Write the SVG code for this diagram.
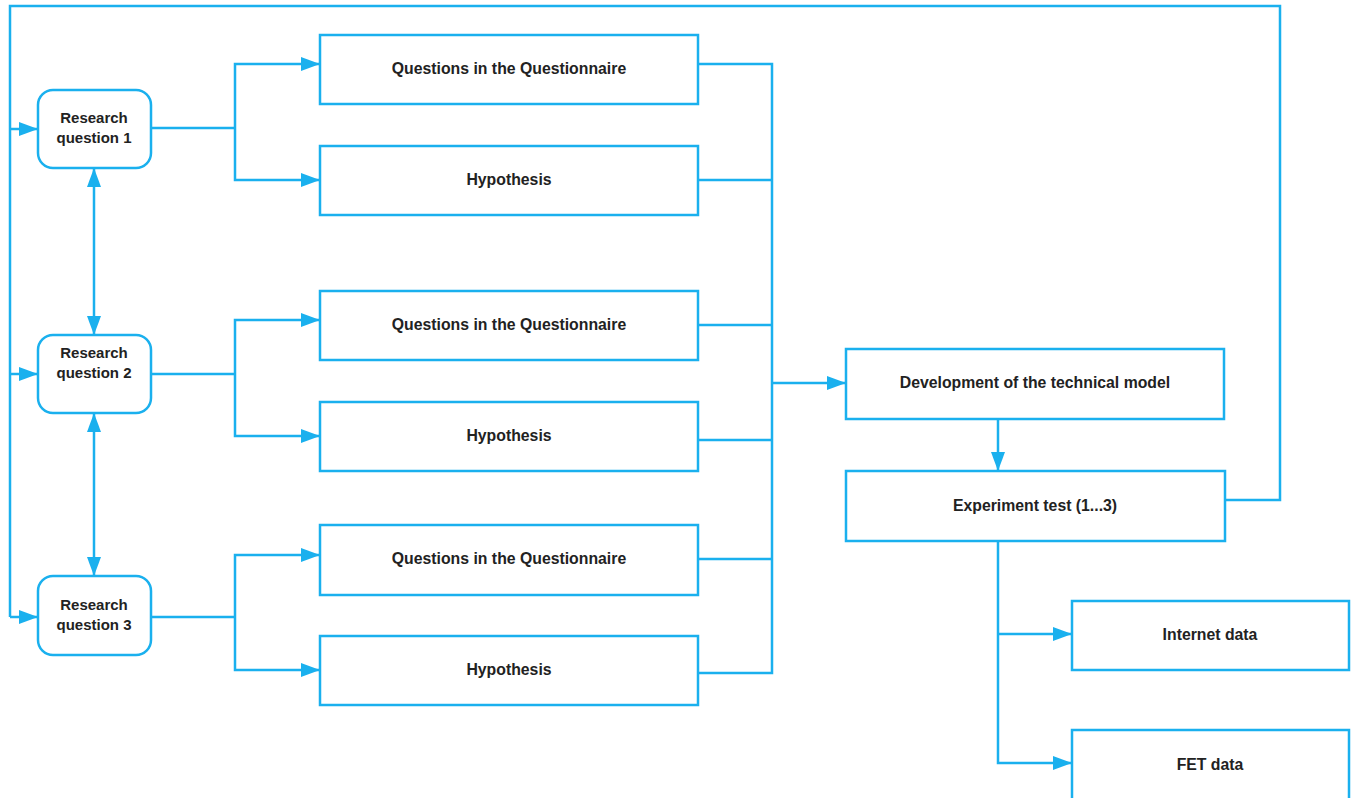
<svg xmlns="http://www.w3.org/2000/svg" width="1351" height="798" viewBox="0 0 1351 798">
<style>
.box{fill:#fff;stroke:#1AB0EE;stroke-width:2.5}
.ln{fill:none;stroke:#1AB0EE;stroke-width:2.5}
.t{font-family:"Liberation Sans",Arial,sans-serif;font-size:15.8px;font-weight:bold;fill:#222;text-anchor:middle;dominant-baseline:middle}
.rq{font-size:15px}
</style>
<defs>
<marker id="ah" markerUnits="userSpaceOnUse" markerWidth="20" markerHeight="16" refX="19" refY="8" orient="auto-start-reverse" viewBox="0 0 20 16">
<path d="M0,1 L19,8 L0,15 z" fill="#1AB0EE"/>
</marker>
</defs>
<rect width="1351" height="798" fill="#fff"/>
<g id="connectors">
<polyline class="ln" points="1225,500 1280,500 1280,6 10,6 10,617"/>
<line class="ln" x1="10" y1="129" x2="38" y2="129" marker-end="url(#ah)"/>
<line class="ln" x1="10" y1="374" x2="38" y2="374" marker-end="url(#ah)"/>
<line class="ln" x1="10" y1="617" x2="38" y2="617" marker-end="url(#ah)"/>
<line class="ln" x1="94" y1="168" x2="94" y2="335" marker-start="url(#ah)" marker-end="url(#ah)"/>
<line class="ln" x1="94" y1="413" x2="94" y2="576" marker-start="url(#ah)" marker-end="url(#ah)"/>
<line class="ln" x1="151" y1="128" x2="235" y2="128"/>
<polyline class="ln" points="320,64 235,64 235,180 320,180" marker-start="url(#ah)" marker-end="url(#ah)"/>
<line class="ln" x1="151" y1="374" x2="235" y2="374"/>
<polyline class="ln" points="320,320 235,320 235,436 320,436" marker-start="url(#ah)" marker-end="url(#ah)"/>
<line class="ln" x1="151" y1="617" x2="235" y2="617"/>
<polyline class="ln" points="320,555 235,555 235,670 320,670" marker-start="url(#ah)" marker-end="url(#ah)"/>
<polyline class="ln" points="698,64 772,64 772,673 698,673"/>
<line class="ln" x1="698" y1="180" x2="772" y2="180"/>
<line class="ln" x1="698" y1="325" x2="772" y2="325"/>
<line class="ln" x1="698" y1="440" x2="772" y2="440"/>
<line class="ln" x1="698" y1="559" x2="772" y2="559"/>
<line class="ln" x1="772" y1="383" x2="846" y2="383" marker-end="url(#ah)"/>
<line class="ln" x1="998" y1="419" x2="998" y2="471" marker-end="url(#ah)"/>
<polyline class="ln" points="998,541 998,763 1072,763" marker-end="url(#ah)"/>
<line class="ln" x1="998" y1="634" x2="1072" y2="634" marker-end="url(#ah)"/>
</g>
<g id="rq1"><rect class="box" x="38" y="90" width="113" height="78" rx="15"/><text class="t rq" x="94" y="119">Research</text><text class="t rq" x="94" y="139">question 1</text></g>
<g id="rq2"><rect class="box" x="38" y="335" width="113" height="78" rx="15"/><text class="t rq" x="94" y="354">Research</text><text class="t rq" x="94" y="374">question 2</text></g>
<g id="rq3"><rect class="box" x="38" y="576" width="113" height="79" rx="15"/><text class="t rq" x="94" y="606">Research</text><text class="t rq" x="94" y="626">question 3</text></g>
<g id="q1"><rect class="box" x="320" y="35" width="378" height="69"/><text class="t" x="509" y="70">Questions in the Questionnaire</text></g>
<g id="h1"><rect class="box" x="320" y="146" width="378" height="69"/><text class="t" x="509" y="181">Hypothesis</text></g>
<g id="q2"><rect class="box" x="320" y="291" width="378" height="69"/><text class="t" x="509" y="326">Questions in the Questionnaire</text></g>
<g id="h2"><rect class="box" x="320" y="402" width="378" height="69"/><text class="t" x="509" y="437">Hypothesis</text></g>
<g id="q3"><rect class="box" x="320" y="525" width="378" height="70"/><text class="t" x="509" y="560">Questions in the Questionnaire</text></g>
<g id="h3"><rect class="box" x="320" y="636" width="378" height="69"/><text class="t" x="509" y="671">Hypothesis</text></g>
<g id="dev"><rect class="box" x="846" y="349" width="378" height="70"/><text class="t" x="1035" y="384">Development of the technical model</text></g>
<g id="exp"><rect class="box" x="846" y="471" width="379" height="70"/><text class="t" x="1035" y="507">Experiment test (1...3)</text></g>
<g id="internet"><rect class="box" x="1072" y="601" width="277" height="69"/><text class="t" x="1210" y="636">Internet data</text></g>
<g id="fet"><rect class="box" x="1072" y="730" width="277" height="75"/><text class="t" x="1210" y="766">FET data</text></g>
</svg>
